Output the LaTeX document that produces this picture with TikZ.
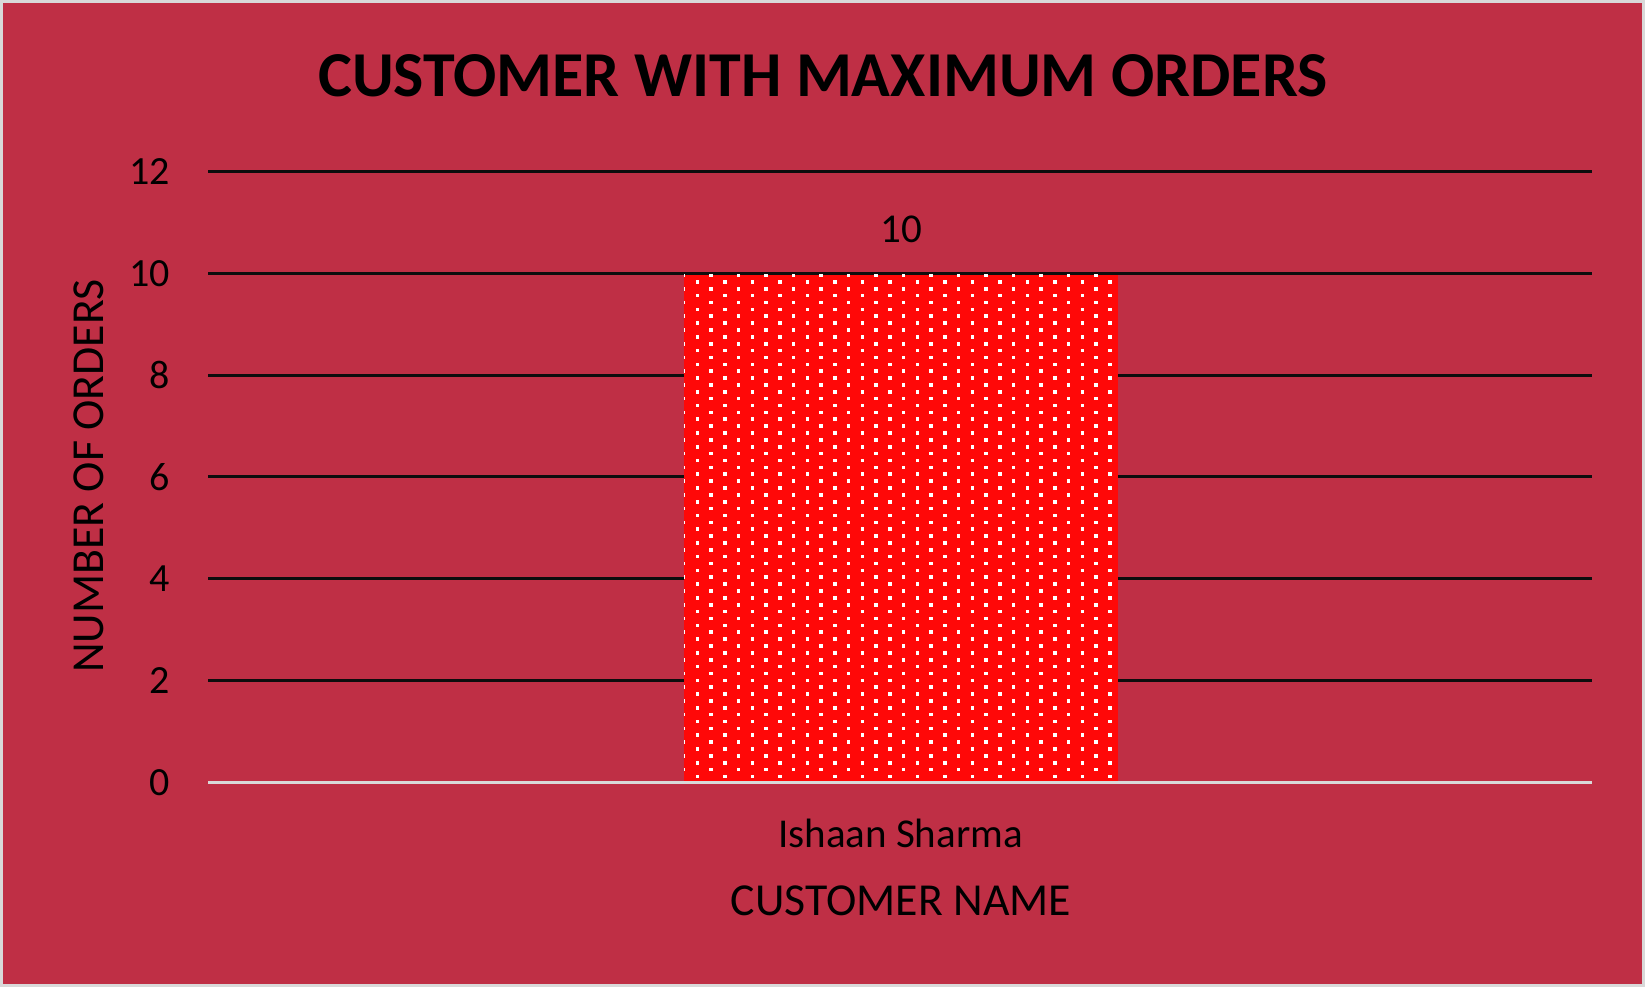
\documentclass[tikz,border=0pt]{standalone}
\usepackage{fontspec}
\setmainfont{Carlito}
\definecolor{bgred}{RGB}{191,47,69}
\definecolor{barred}{RGB}{255,8,8}
\definecolor{framegray}{RGB}{217,217,217}
\definecolor{gridblack}{RGB}{13,13,13}
\tikzset{
  gridline/.style={draw=gridblack, line width=3pt},
  zeroline/.style={draw=framegray, line width=3pt},
  ticklabel/.style={inner sep=0pt, anchor=east, font=\fontsize{40}{48}\selectfont},
  datalabel/.style={inner sep=0pt, anchor=base, font=\fontsize{41}{48}\selectfont},
  axistitle/.style={inner sep=0pt, font=\fontsize{45.8}{54}\selectfont},
  charttitle/.style={inner sep=0pt, anchor=base, font=\fontsize{64}{72}\selectfont\bfseries},
  dotsq/.style={fill=white}
}
\begin{document}
\begin{tikzpicture}[x=1pt,y=-1pt]
\useasboundingbox (0,0) rectangle (1645,987);
\fill[framegray] (0,0) rectangle (1645,987);
\fill[bgred] (3,3) rectangle (1642,984);
% gridlines and tick labels
\foreach \v in {2,4,...,12}{
  \coordinate (gl\v) at (208,{782.3-50.9*\v});
  \coordinate (gr\v) at (1592,{782.3-50.9*\v});
  \draw[gridline] (gl\v) -- (gr\v);
  \node[ticklabel] (t\v) at (170,{782.3-50.9*\v}) {\v};
}
\node[ticklabel] (t0) at (170,782.3) {0};
% bar
\fill[barred] (684,274.6) rectangle (1118,782.3);
\begin{scope}
  \clip (684,274.6) rectangle (1118,782.3);
  \foreach \k in {0,...,73}{
    \pgfmathsetmacro{\yy}{275+6.87*\k}
    \pgfmathsetmacro{\xs}{isodd(\k) ? 697.3 : 683.5}
    \foreach \j in {0,...,16}{
      \fill[dotsq] ({\xs+27.5*\j-1.8},{\yy-1.8}) rectangle ++(3.6,3.6);
    }
  }
\end{scope}
\coordinate (zl) at (208,782.3);
\coordinate (zr) at (1592,782.3);
\draw[zeroline] (zl) -- (zr);
% labels
\node[datalabel] (val) at (901,242.7) {10};
\node[datalabel] (cat) at (900.5,847) {Ishaan Sharma};
\node[axistitle, anchor=base] (xt) at (901,915) {CUSTOMER NAME};
\node[axistitle, rotate=90, anchor=center] (yt) at (88.5,476) {NUMBER OF ORDERS};
\node[charttitle] (title) at (823,97) {CUSTOMER WITH MAXIMUM ORDERS};
\end{tikzpicture}
\end{document}
